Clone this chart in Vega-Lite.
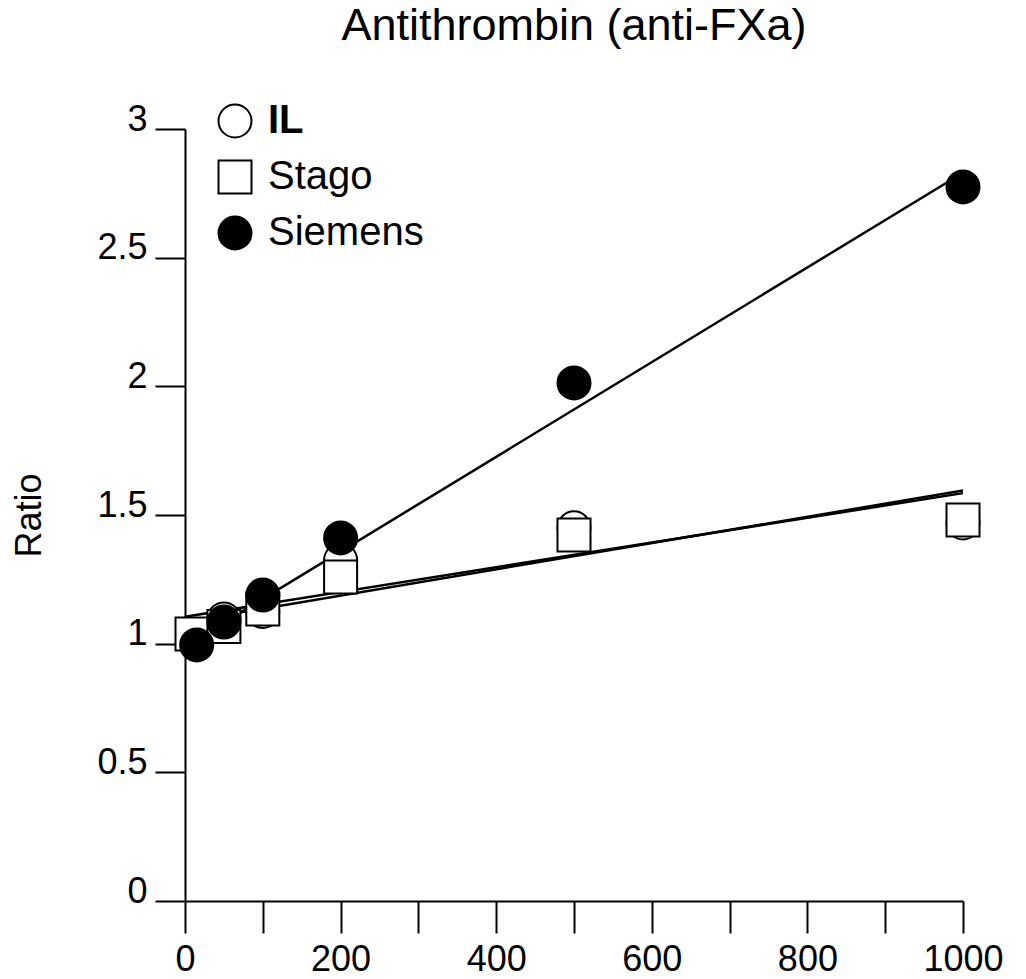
{
  "$schema": "https://vega.github.io/schema/vega-lite/v6.json",
  "width": 778,
  "height": 772,
  "autosize": {"type": "none"},
  "padding": {"left": 185, "top": 129, "right": 63, "bottom": 78},
  "background": "white",
  "title": {
    "text": "Antithrombin (anti-FXa)",
    "fontSize": 45,
    "font": "Liberation Sans",
    "fontWeight": "normal",
    "color": "black",
    "baseline": "alphabetic",
    "anchor": "middle",
    "offset": 16
  },
  "config": {
    "view": {"stroke": null},
    "axis": {
      "grid": false,
      "domainColor": "black",
      "domainWidth": 2,
      "tickColor": "black",
      "tickWidth": 2,
      "labelFont": "Liberation Sans",
      "labelFontSize": 36,
      "labelColor": "black",
      "titleFont": "Liberation Sans",
      "titleFontSize": 36,
      "titleFontWeight": "normal",
      "titleColor": "black"
    },
    "legend": {
      "orient": "none",
      "legendX": 30,
      "legendY": -28,
      "padding": 0,
      "labelFont": "Liberation Sans",
      "labelFontSize": 40,
      "labelColor": "black",
      "labelOffset": 13,
      "symbolSize": 1089,
      "symbolStrokeWidth": 2,
      "rowPadding": 14,
      "labelLimit": 400
    }
  },
  "datasets": {
    "points": [
      {"method": "IL", "conc": 12, "ratio": 1.022},
      {"method": "IL", "conc": 50, "ratio": 1.096},
      {"method": "IL", "conc": 100, "ratio": 1.125},
      {"method": "IL", "conc": 200, "ratio": 1.325},
      {"method": "IL", "conc": 500, "ratio": 1.45},
      {"method": "IL", "conc": 1000, "ratio": 1.469},
      {"method": "Stago", "conc": 9, "ratio": 1.038},
      {"method": "Stago", "conc": 50, "ratio": 1.067},
      {"method": "Stago", "conc": 100, "ratio": 1.135},
      {"method": "Stago", "conc": 200, "ratio": 1.259},
      {"method": "Stago", "conc": 500, "ratio": 1.422},
      {"method": "Stago", "conc": 1000, "ratio": 1.481},
      {"method": "Siemens", "conc": 15, "ratio": 0.995},
      {"method": "Siemens", "conc": 50, "ratio": 1.084},
      {"method": "Siemens", "conc": 100, "ratio": 1.189},
      {"method": "Siemens", "conc": 200, "ratio": 1.411},
      {"method": "Siemens", "conc": 500, "ratio": 2.013},
      {"method": "Siemens", "conc": 1000, "ratio": 2.775}
    ],
    "fits": [
      {"method": "Siemens", "conc": 0, "ratio": 0.99},
      {"method": "Siemens", "conc": 1000, "ratio": 2.83},
      {"method": "IL", "conc": 0, "ratio": 1.105},
      {"method": "IL", "conc": 1000, "ratio": 1.585},
      {"method": "Stago", "conc": 0, "ratio": 1.085},
      {"method": "Stago", "conc": 1000, "ratio": 1.595}
    ]
  },
  "encoding": {
    "x": {
      "field": "conc",
      "type": "quantitative",
      "scale": {"domain": [0, 1000], "nice": false, "zero": false},
      "axis": {
        "title": null,
        "values": [0, 100, 200, 300, 400, 500, 600, 700, 800, 900, 1000],
        "labelExpr": "datum.value % 200 === 0 ? format(datum.value, 'd') : ''",
        "tickSize": 32,
        "labelPadding": 9,
        "labelFlush": false,
        "labelOverlap": false
      }
    },
    "y": {
      "field": "ratio",
      "type": "quantitative",
      "scale": {"domain": [0, 3], "nice": false, "zero": false},
      "axis": {
        "title": "Ratio",
        "values": [0, 0.5, 1, 1.5, 2, 2.5, 3],
        "format": "~g",
        "tickSize": 30,
        "labelPadding": 8,
        "labelBaseline": "alphabetic",
        "labelOffset": 1,
        "labelFlush": false,
        "labelOverlap": false,
        "titleAngle": 270,
        "titleX": -145,
        "titleY": 386,
        "titleAlign": "center",
        "titleBaseline": "alphabetic"
      }
    }
  },
  "layer": [
    {
      "data": {"name": "fits"},
      "mark": {"type": "line", "color": "black", "strokeWidth": 2.5},
      "encoding": {"detail": {"field": "method", "type": "nominal"}}
    },
    {
      "data": {"name": "points"},
      "mark": {"type": "point", "filled": true, "strokeWidth": 2, "size": 1089, "opacity": 1},
      "encoding": {
        "shape": {
          "field": "method",
          "type": "nominal",
          "scale": {"domain": ["IL", "Stago", "Siemens"], "range": ["circle", "square", "circle"]},
          "legend": {
            "title": null,
            "labelFontWeight": {"expr": "datum.label === 'IL' ? 'bold' : 'normal'"}
          }
        },
        "fill": {
          "field": "method",
          "type": "nominal",
          "scale": {"domain": ["IL", "Stago", "Siemens"], "range": ["white", "white", "black"]},
          "legend": {
            "title": null,
            "labelFontWeight": {"expr": "datum.label === 'IL' ? 'bold' : 'normal'"}
          }
        },
        "stroke": {
          "field": "method",
          "type": "nominal",
          "scale": {"domain": ["IL", "Stago", "Siemens"], "range": ["black", "black", "black"]},
          "legend": {
            "title": null,
            "labelFontWeight": {"expr": "datum.label === 'IL' ? 'bold' : 'normal'"}
          }
        }
      }
    }
  ]
}
